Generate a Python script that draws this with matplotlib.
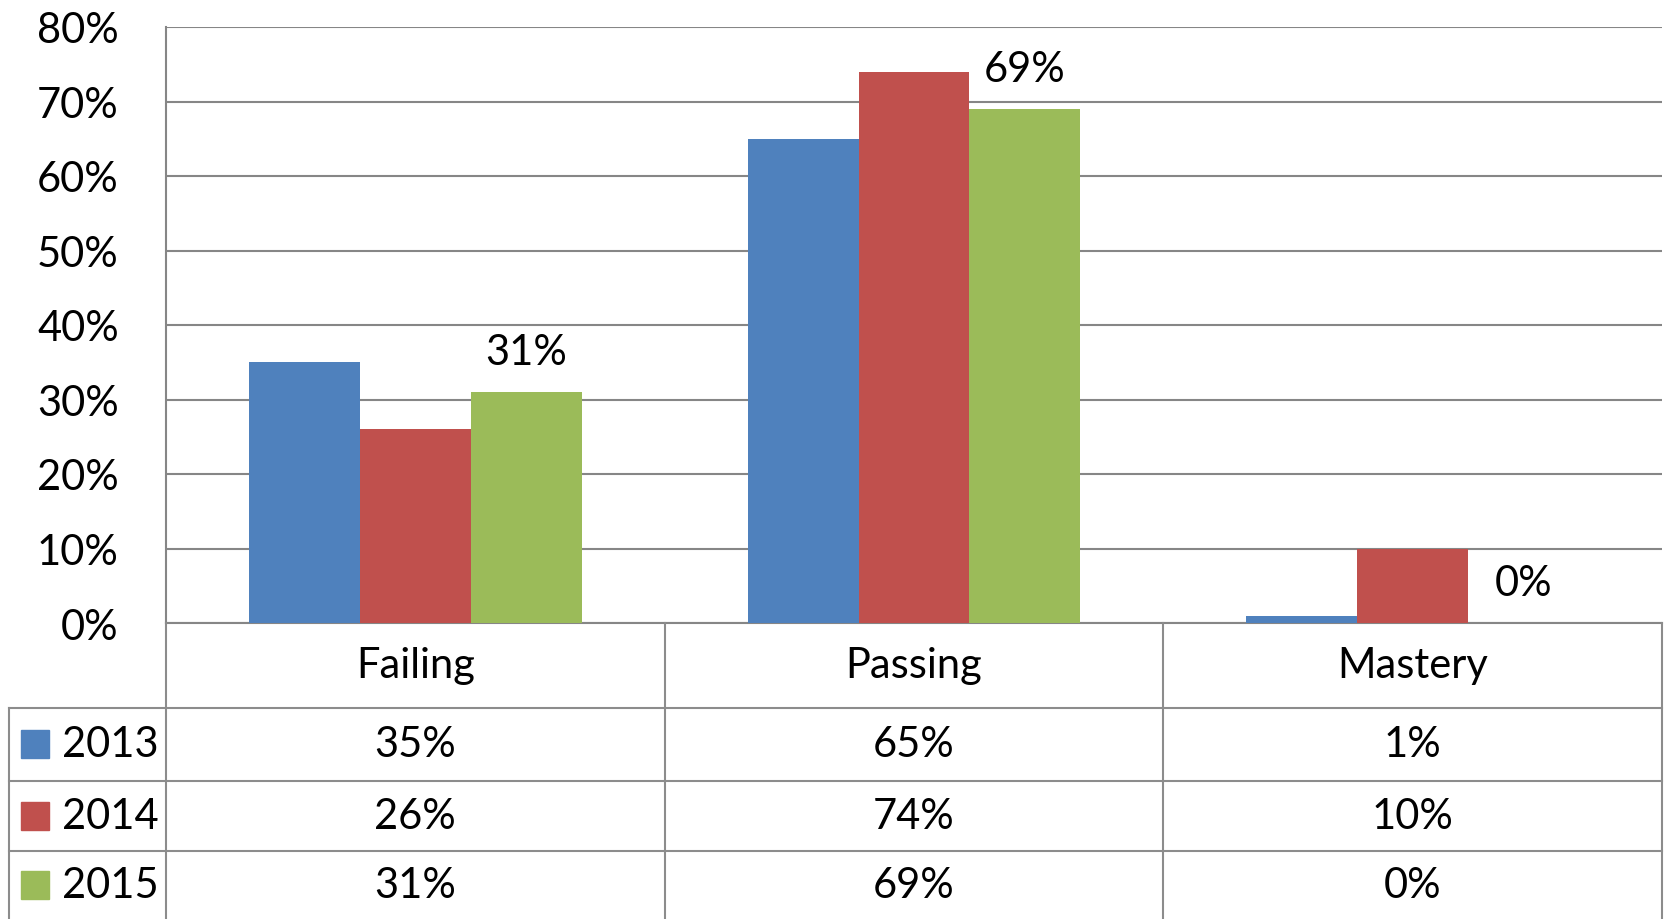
import matplotlib
matplotlib.use('Agg')
import matplotlib.pyplot as plt
from matplotlib.ticker import PercentFormatter

plt.rcParams['font.family'] = ['Lato', 'DejaVu Sans']

# data
categories = ['Failing', 'Passing', 'Mastery']
years = ['2013', '2014', '2015']
values_2013 = [35, 65, 1]
values_2014 = [26, 74, 10]
values_2015 = [31, 69, 0]
colors = ['#4F81BD', '#C0504D', '#9BBB59']
series = [values_2013, values_2014, values_2015]

W, H = 1665, 920
fig = plt.figure(figsize=(W / 100, H / 100), dpi=100)

# plot area in pixels
left, right, top, bottom = 166, 1662, 28, 624
ax = fig.add_axes([left / W, (H - bottom) / H, (right - left) / W, (bottom - top) / H])

bw = 0.2225
x = list(range(len(categories)))
for j, (vals, c) in enumerate(zip(series, colors)):
    pos = [i + (j - 1) * bw for i in x]
    ax.bar(pos, vals, width=bw, color=c, zorder=3)
    if j == 2:
        # only last series has data labels
        for p, v in zip(pos, vals):
            ax.annotate(f'{v}%', (p, v), xytext=(0, 29), textcoords='offset points',
                        ha='center', va='center', fontsize=30)

ax.set_xlim(-0.5, 2.5)
ax.set_ylim(0, 80)
ax.set_yticks(range(0, 81, 10))
ax.yaxis.set_major_formatter(PercentFormatter(decimals=0))
ax.tick_params(axis='y', length=0, pad=34, labelsize=30)
ax.set_xticks([])
ax.grid(axis='y', color='#868686', linewidth=1.5, zorder=0)
for s in ['top', 'right']:
    ax.spines[s].set_visible(False)
for s in ['left', 'bottom']:
    ax.spines[s].set_color('#868686')
    ax.spines[s].set_linewidth(1.5)

# data table under the chart
cat_w = (right - left) / 3
lc = (left - 8.5) / cat_w
tab = fig.add_axes([8.5 / W, 0, (right - 8.5) / W, (H - bottom) / H])
tab.set_xlim(-0.5 - lc, 2.5)
tab.set_ylim(H - bottom, 0)
tab.axis('off')

lc_kw = dict(color='#8c8c8c', linewidth=1.5, clip_on=False)
row_lines = [85, 158, 228]
for xv in [-0.5, 0.5, 1.5, 2.5]:
    tab.plot([xv, xv], [0, H - bottom], **lc_kw)
tab.plot([-0.5 - lc, -0.5 - lc], [row_lines[0], H - bottom], **lc_kw)
for yv in row_lines:
    tab.plot([-0.5 - lc, 2.5], [yv, yv], **lc_kw)

for i, cat in enumerate(categories):
    tab.text(i, 42, cat, ha='center', va='center', fontsize=30)

row_mid = [121, 193, 262]
sq_x = -0.5 - (left - 35) / cat_w
txt_x = -0.5 - (left - 62) / cat_w
for yr, vals, c, ym in zip(years, series, colors, row_mid):
    tab.plot([sq_x], [ym], marker='s', markersize=20, color=c, clip_on=False)
    tab.text(txt_x, ym, yr, ha='left', va='center', fontsize=30)
    for i, v in enumerate(vals):
        tab.text(i, ym, f'{v}%', ha='center', va='center', fontsize=30)

fig.savefig('out.png', dpi=100)
